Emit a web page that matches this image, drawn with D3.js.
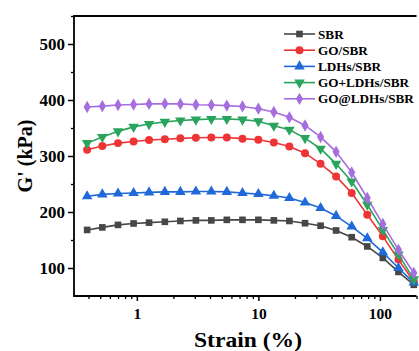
<!DOCTYPE html>
<html>
<head>
<meta charset="utf-8">
<script src="https://cdn.jsdelivr.net/npm/d3@7"></script>
<style>
    body { margin: 0; background: #fff; }
    text { font-family: "Liberation Serif", "Times New Roman", serif; font-weight: bold; }
</style>
</head>
<body>
<div id="chart"></div>
<script>

// Data ///////////////////////////////////////////////////////////////////////

const strain = [0.39, 0.52, 0.70, 0.94, 1.26, 1.7, 2.28, 3.06, 4.1, 5.5, 7.4,
    10, 13.4, 18, 24.2, 32.5, 43.6, 58.6, 78.7, 105.7, 142, 190];

const seriesNames = ["SBR", "GO/SBR", "LDHs/SBR", "GO+LDHs/SBR", "GO@LDHs/SBR"];

const sbr = [168, 172.5, 177, 179.5, 181, 182.5, 184, 185, 185, 186, 186,
    186, 185, 184, 180, 175.5, 167, 155, 138.5, 118, 93, 70];
const goSbr = [311, 318, 323, 326, 328.5, 330, 331.5, 332.5, 333, 333, 331,
    329, 324, 317, 305, 286, 263.5, 234, 195, 156.5, 115, 76];
const ldhsSbr = [228, 231.5, 233, 234, 235, 236, 236, 236.5, 236.5, 236, 234,
    232, 229, 225, 217, 207, 193, 174, 153, 128, 100, 74];
const goLdhsSbr = [323, 334, 344, 352, 357, 361, 363.5, 365, 366, 366, 365,
    362, 354, 347, 332, 313, 286, 254.5, 213, 168, 124, 80];
const goAtLdhsSbr = [387.5, 389, 391, 392, 393, 393.4, 393, 391.5, 391, 390, 388.5,
    384.5, 378.5, 369, 354.5, 334, 307.5, 270.5, 225, 178.5, 132.5, 91];

const xTicks = [1, 10, 100];
const yTicks = [100, 200, 300, 400, 500];

const seriesColors = ["#474747", "#ee3434", "#1f69d8", "#2aa45c", "#a66ddf"];
const seriesSymbols = ["square", "circle", "triangleUp", "triangleDown", "diamond"];

const series = [sbr, goSbr, ldhsSbr, goLdhsSbr, goAtLdhsSbr].map((values, i) => ({
    name: seriesNames[i],
    color: seriesColors[i],
    symbol: seriesSymbols[i],
    points: values.map((v, j) => ({ x: strain[j], y: v }))
}));

// Layout /////////////////////////////////////////////////////////////////////

const width = 419, height = 351;
const plot = { left: 74, right: 416.5, top: 16, bottom: 296 };

const svg = d3.select("#chart").append("svg")
    .attr("width", width)
    .attr("height", height)
    .attr("viewBox", [0, 0, width, height]);

const x = d3.scaleLog()
    .domain([0.3, 200])
    .range([73.3, plot.right]);

const y = d3.scaleLinear()
    .domain([50, 550])
    .range([plot.bottom, plot.top]);

// Axes ///////////////////////////////////////////////////////////////////////

const xMinor = [0.4, 0.5, 0.6, 0.7, 0.8, 0.9, 2, 3, 4, 5, 6, 7, 8, 9,
    20, 30, 40, 50, 60, 70, 80, 90, 200];

svg.append("g")
    .attr("transform", `translate(0,${plot.bottom})`)
    .call(d3.axisBottom(x).tickValues(xMinor).tickSize(3).tickFormat(""))
    .call(g => g.select(".domain").remove())
    .call(g => g.selectAll("line").attr("stroke", "#000").attr("stroke-width", 1.3));

svg.append("g")
    .attr("transform", `translate(0,${plot.bottom})`)
    .call(d3.axisBottom(x).tickValues(xTicks).tickSize(5).tickPadding(7)
        .tickFormat(d3.format("d")))
    .call(g => g.select(".domain").remove())
    .call(g => g.selectAll("line").attr("stroke", "#000").attr("stroke-width", 1.5))
    .call(g => g.selectAll("text").attr("fill", "#000").style("font-size", "15.5px"));

svg.append("g")
    .attr("transform", `translate(${plot.left},0)`)
    .call(d3.axisLeft(y).tickValues([150, 250, 350, 450, 550]).tickSize(3).tickFormat(""))
    .call(g => g.select(".domain").remove())
    .call(g => g.selectAll("line").attr("stroke", "#000").attr("stroke-width", 1.3));

svg.append("g")
    .attr("transform", `translate(${plot.left},0)`)
    .call(d3.axisLeft(y).tickValues(yTicks).tickSize(6).tickPadding(3))
    .call(g => g.select(".domain").remove())
    .call(g => g.selectAll("line").attr("stroke", "#000").attr("stroke-width", 1.5))
    .call(g => g.selectAll("text").attr("fill", "#000").style("font-size", "17px"));

// frame: left, bottom, top
svg.append("path")
    .attr("d", `M${plot.right},${plot.top}H${plot.left}V${plot.bottom}H${plot.right}`)
    .attr("fill", "none")
    .attr("stroke", "#000")
    .attr("stroke-width", 1.8);

svg.append("text")
    .attr("x", 194)
    .attr("y", 347)
    .attr("textLength", 108)
    .attr("lengthAdjust", "spacingAndGlyphs")
    .style("font-size", "21px")
    .text("Strain (%)");

svg.append("text")
    .attr("transform", `translate(32,${(plot.top + plot.bottom) / 2}) rotate(-90)`)
    .attr("text-anchor", "middle")
    .style("font-size", "20px")
    .text("G' (kPa)");

// Lines //////////////////////////////////////////////////////////////////////

const symbolPath = (type) => {
    if (type === "square") return d3.symbol(d3.symbolSquare, 44)();
    if (type === "circle") return d3.symbol(d3.symbolCircle, 50)();
    if (type === "triangleUp") return d3.symbol(d3.symbolTriangle, 48)();
    if (type === "triangleDown") return d3.symbol(d3.symbolTriangle, 48)();
    return d3.symbol(d3.symbolDiamond, 44)();
};
const symbolRotate = (type) => type === "triangleDown" ? " rotate(180)" : "";

const line = d3.line()
    .x(d => x(d.x))
    .y(d => y(d.y));

const lines = svg.append("g");

series.forEach(s => {
    const g = lines.append("g");
    g.append("path")
        .datum(s.points)
        .attr("fill", "none")
        .attr("stroke", s.color)
        .attr("stroke-width", 1.6)
        .attr("d", line);
    g.selectAll("path.marker")
        .data(s.points)
        .join("path")
        .attr("class", "marker")
        .attr("d", symbolPath(s.symbol))
        .attr("transform", d => `translate(${x(d.x)},${y(d.y)})${symbolRotate(s.symbol)}`)
        .attr("fill", s.color);
});

// Legend /////////////////////////////////////////////////////////////////////

const legend = svg.append("g")
    .attr("transform", "translate(284,34)");

const legendItem = legend.selectAll("g")
    .data(series)
    .join("g")
    .attr("transform", (d, i) => `translate(0,${i * 16.2})`);

legendItem.append("line")
    .attr("x1", 0).attr("x2", 31)
    .attr("stroke", d => d.color)
    .attr("stroke-width", 1.6);

legendItem.append("path")
    .attr("d", d => symbolPath(d.symbol))
    .attr("transform", d => `translate(15.5,0)${symbolRotate(d.symbol)}`)
    .attr("fill", d => d.color);

legendItem.append("text")
    .attr("x", 34)
    .attr("y", 4.5)
    .style("font-size", "13.2px")
    .text(d => d.name);

</script>
</body>
</html>
